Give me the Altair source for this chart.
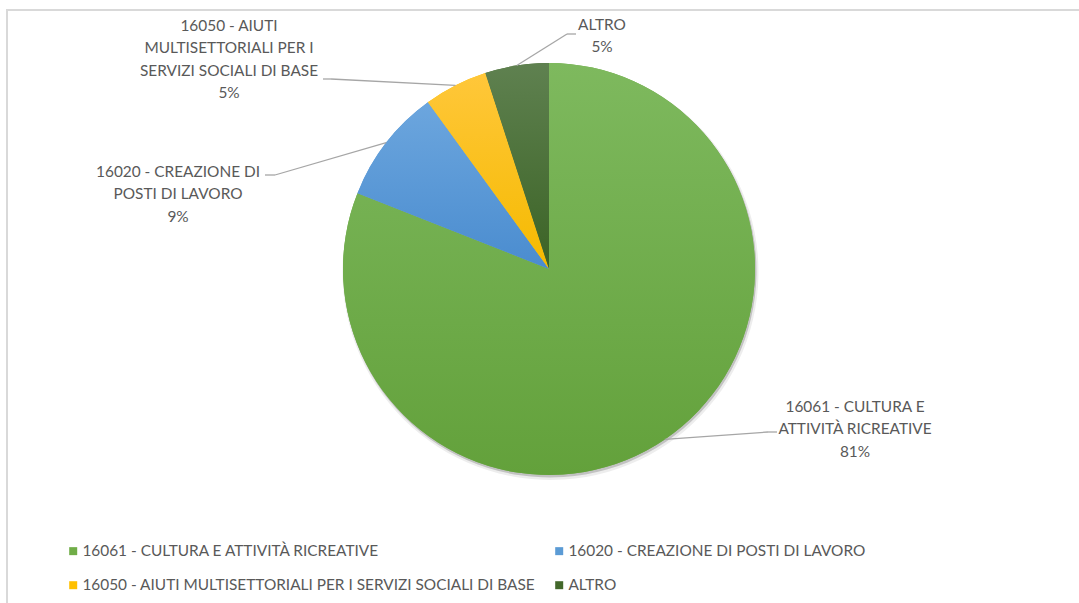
import math

import altair as alt
import pandas as pd

# Canvas and pie geometry (pixels)
W, H = 1079, 603
CX, CY, R = 549, 269, 206
FONT = "Lato"
FONT_SIZE = 15.4
TEXT_COLOR = "#595959"

# Sectors, in drawing order clockwise from 12 o'clock
categories = [
    "16061 - CULTURA E ATTIVITÀ RICREATIVE",
    "16020 - CREAZIONE DI POSTI DI LAVORO",
    "16050 - AIUTI MULTISETTORIALI PER I SERVIZI SOCIALI DI BASE",
    "ALTRO",
]
shares = [81, 9, 5, 5]

# Wrapped text of the data labels
label_lines = [
    ["16061 - CULTURA E", "ATTIVITÀ RICREATIVE"],
    ["16020 - CREAZIONE DI", "POSTI DI LAVORO"],
    ["16050 - AIUTI", "MULTISETTORIALI PER I", "SERVIZI SOCIALI DI BASE"],
    ["ALTRO"],
]

# Colours: flat (legend) and top/bottom of each sector's gradient
legend_colors = ["#70AD47", "#5B9BD5", "#FFC000", "#43682B"]
grad_top = ["#7EB95E", "#6CA6DE", "#FFC73A", "#5F8150"]
grad_bottom = ["#63A13B", "#4A8CCF", "#F5BA00", "#3B6325"]

# Label placement: text centre x / first baseline y, leader elbow and tail
label_x = [855, 178, 229, 602]
label_y = [412, 177, 31, 30]
elbow_x = [768, 275, 331, 567]
elbow_y = [432, 175, 79, 34]
tail_len = [9, -10, -8, 9]

df = pd.DataFrame(
    {
        "idx": list(range(len(categories))),
        "category": categories,
        "share": shares,
        "label": ["\n".join(lines + [f"{s}%"]) for lines, s in zip(label_lines, shares)],
        "lx": label_x,
        "ly": label_y,
        "ax": elbow_x,
        "ay": elbow_y,
        "tx": [x + t for x, t in zip(elbow_x, tail_len)],
    }
)

base = (
    alt.Chart(df)
    .transform_window(cum="sum(share)", sort=[alt.SortField("idx", order="ascending")], frame=[None, 0])
    .transform_joinaggregate(total="sum(share)")
    .transform_calculate(t0="datum.cum - datum.share")
    .transform_calculate(mid="2 * PI * (datum.cum - datum.share / 2) / datum.total")
    .transform_calculate(ex=f"{CX} + {R} * sin(datum.mid)")
    .transform_calculate(ey=f"{CY} - {R} * cos(datum.mid)")
)

theta_scale = alt.Scale(domain=[0, sum(shares)], range=[0, 2 * math.pi])
xs = alt.Scale(domain=[0, W], range=[0, W], zero=False, nice=False)
ys = alt.Scale(domain=[0, H], range=[0, H], zero=False, nice=False)

theta_enc = dict(
    theta=alt.Theta("t0:Q", scale=theta_scale, stack=None),
    theta2=alt.Theta2("cum:Q"),
)

# Outer chart border
frame = (
    alt.Chart(pd.DataFrame({"k": [0]}))
    .mark_rect(fillOpacity=0, stroke="#D9D9D9", strokeWidth=2)
    .encode(x=alt.value(7), x2=alt.value(W + 10), y=alt.value(10), y2=alt.value(H + 20))
)

# Soft drop shadow under the pie
shadow_outer = base.mark_arc(radius=R + 2, color="#000000", opacity=0.07).encode(
    x=alt.value(CX + 1.5), y=alt.value(CY + 3), **theta_enc
)
shadow_inner = base.mark_arc(radius=R + 0.5, color="#000000", opacity=0.18).encode(
    x=alt.value(CX + 1), y=alt.value(CY + 2), **theta_enc
)

# Flat sectors carrying the legend (two columns, filled row by row)
flat = base.mark_arc(radius=R).encode(
    x=alt.value(CX),
    y=alt.value(CY),
    color=alt.Color(
        "category:N",
        scale=alt.Scale(domain=categories, range=legend_colors),
        legend=alt.Legend(
            title=None,
            orient="none",
            direction="horizontal",
            legendX=65.5,
            legendY=543,
            columns=2,
            columnPadding=16,
            rowPadding=17.5,
            padding=0,
            symbolType="square",
            symbolSize=64,
            symbolStrokeWidth=0,
            labelFont=FONT,
            labelFontSize=FONT_SIZE,
            labelColor=TEXT_COLOR,
            labelLimit=700,
            labelOffset=1.5,
        ),
    ),
    **theta_enc,
)

# Gradient-shaded sectors on top
shaded = [
    base.transform_filter(alt.datum.idx == i)
    .mark_arc(
        radius=R,
        color=alt.Gradient(
            gradient="linear",
            stops=[
                alt.GradientStop(color=grad_top[i], offset=0),
                alt.GradientStop(color=grad_bottom[i], offset=1),
            ],
            x1=0,
            x2=0,
            y1=0,
            y2=1,
        ),
    )
    .encode(x=alt.value(CX), y=alt.value(CY), **theta_enc)
    for i in range(len(categories))
]

# Leader lines: sector edge -> elbow, then a short horizontal tail
leader_diag = base.mark_rule(color="#A6A6A6", strokeWidth=1.3).encode(
    x=alt.X("ex:Q", scale=xs, axis=None),
    y=alt.Y("ey:Q", scale=ys, axis=None),
    x2="ax:Q",
    y2="ay:Q",
)
leader_tail = base.mark_rule(color="#A6A6A6", strokeWidth=1.3).encode(
    x=alt.X("ax:Q", scale=xs, axis=None),
    x2="tx:Q",
    y=alt.Y("ay:Q", scale=ys, axis=None),
)

labels = base.mark_text(
    font=FONT,
    fontSize=FONT_SIZE,
    color=TEXT_COLOR,
    align="center",
    baseline="alphabetic",
    lineBreak="\n",
    lineHeight=22.3,
).encode(
    x=alt.X("lx:Q", scale=xs, axis=None),
    y=alt.Y("ly:Q", scale=ys, axis=None),
    text="label:N",
)

chart = (
    alt.layer(frame, shadow_outer, shadow_inner, flat, *shaded, leader_diag, leader_tail, labels)
    .properties(width=W, height=H, padding=0, autosize=alt.AutoSizeParams(type="none"), background="white")
    .configure_view(strokeWidth=0)
)

chart.save("out.html", embed_options={"renderer": "svg", "actions": False})
